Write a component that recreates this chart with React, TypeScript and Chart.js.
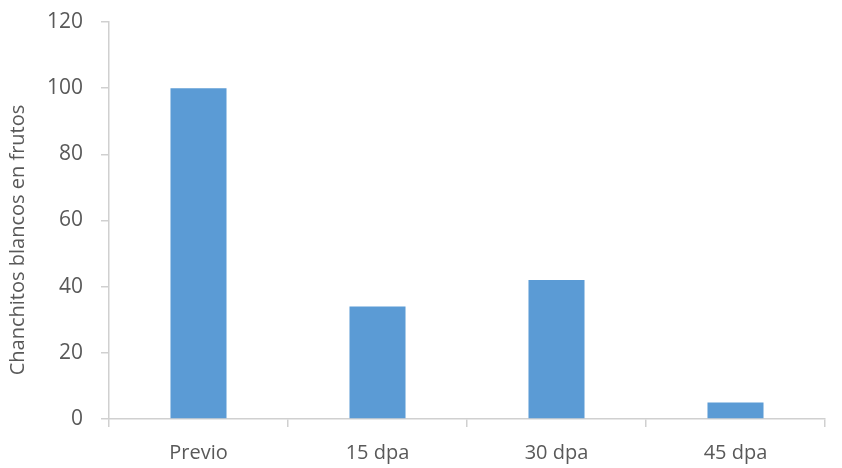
import React, { useEffect, useRef } from "react";
import { Chart, registerables } from "chart.js";

Chart.register(...registerables);

const categories = ["Previo", "15 dpa", "30 dpa", "45 dpa"];
const values = [100, 34, 42, 5];
const yAxisTitle = "Chanchitos blancos en frutos";
const yMin = 0;
const yMax = 120;
const yStep = 20;

const FONT = "'Open Sans', 'Noto Sans', sans-serif";
const TEXT = "#595959";
const AXIS = "#D0D0D0";

const titlePlugin = {
  id: "yTitle",
  afterDraw(chart: any) {
    const ctx = chart.ctx;
    ctx.save();
    ctx.translate(18, 240);
    ctx.rotate(-Math.PI / 2);
    ctx.font = `20px ${FONT}`;
    ctx.fillStyle = TEXT;
    ctx.textAlign = "center";
    ctx.textBaseline = "middle";
    ctx.fillText(yAxisTitle, 0, 0);
    ctx.restore();
  },
};

export default function App() {
  const ref = useRef<HTMLCanvasElement | null>(null);
  useEffect(() => {
    document.body.style.margin = "0";
    const chart = new Chart(ref.current as HTMLCanvasElement, {
      type: "bar",
      data: {
        labels: categories,
        datasets: [
          {
            data: values,
            backgroundColor: "#5B9BD5",
            barPercentage: 0.313,
            categoryPercentage: 1,
          },
        ],
      },
      options: {
        animation: false,
        responsive: false,
        maintainAspectRatio: false,
        layout: { padding: { top: 22, right: 17, left: 0, bottom: 0 } },
        plugins: { legend: { display: false }, tooltip: { enabled: false } },
        scales: {
          x: {
            grid: {
              offset: true,
              drawOnChartArea: false,
              drawTicks: true,
              tickLength: 8,
              color: AXIS,
              lineWidth: 1.5,
            },
            border: { color: AXIS, width: 1.5 },
            ticks: { color: TEXT, font: { family: FONT, size: 20 }, padding: 14 },
            afterFit(axis: any) {
              axis.height = 49;
              axis.paddingLeft = 0;
              axis.paddingRight = 0;
            },
          },
          y: {
            min: yMin,
            max: yMax,
            grid: {
              drawOnChartArea: false,
              drawTicks: true,
              tickLength: 8,
              color: AXIS,
              lineWidth: 1.5,
            },
            border: { color: AXIS, width: 1.5 },
            ticks: {
              stepSize: yStep,
              color: TEXT,
              font: { family: FONT, size: 21 },
              padding: 18,
            },
            afterFit(axis: any) {
              axis.width = 109;
              axis.paddingTop = 0;
              axis.paddingBottom = 0;
            },
          },
        },
      },
      plugins: [titlePlugin],
    });
    return () => chart.destroy();
  }, []);
  return (
    <div style={{ width: 842, height: 468 }}>
      <canvas ref={ref} width={842} height={468} style={{ display: "block" }} />
    </div>
  );
}
